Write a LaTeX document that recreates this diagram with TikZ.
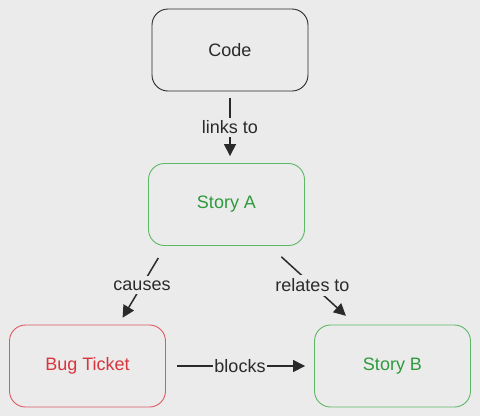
\documentclass[tikz,border=0pt]{standalone}
\usepackage{fontspec}
\setmainfont{Liberation Sans}
\usetikzlibrary{arrows.meta}

\definecolor{paper}{HTML}{EBEBEB}
\definecolor{storygreen}{HTML}{2E9A3C}
\definecolor{storyline}{HTML}{5DB865}
\definecolor{bugred}{HTML}{D8343C}
\definecolor{bugline}{HTML}{DE5A62}
\definecolor{ink}{HTML}{2A2A2A}

\begin{document}
\begin{tikzpicture}[x=1pt, y=-1pt,
  font=\fontsize{18}{21}\selectfont,
  card/.style={draw=ink, line width=0.9pt, rounded corners=16pt,
    minimum width=156pt, minimum height=82pt, text=ink},
  story/.style={card, draw=storyline, text=storygreen},
  bug/.style={card, draw=bugline, text=bugred},
  link/.style={ink, line width=1.5pt, -{Triangle[length=12pt,width=12pt]}},
  tag/.style={fill=paper, inner xsep=1pt, inner ysep=3pt, text=ink}]

\fill[paper] (0,0) rectangle (480,416);
\useasboundingbox (0,0) rectangle (480,416);

\node [card] (code) at (230,50) {Code};
\node [story] (storyA) at (226.5,204.5) {Story A};
\node [bug] (ticket) at (87.5,366) {Bug Ticket};
\node [story] (storyB) at (392.5,366) {Story B};

% code -> story A
\draw[link, shorten <=7pt, shorten >=7pt] (code.south) -- node [tag] {links to} (code.south |- storyA.north);

% story A -> bug / story B
\draw[link, shorten <=14pt, shorten >=8pt] ([xshift=-61pt]storyA.south) -- node [tag, inner sep=4pt] {causes} ([xshift=31pt]ticket.north);
\draw[link, shorten <=16pt, shorten >=13pt] ([xshift=43pt]storyA.south) -- node [tag, inner sep=4pt] {relates to} ([xshift=-37pt]storyB.north);

% bug -> story B
\draw[link, shorten <=11pt, shorten >=9pt] (ticket.east) -- node [tag, inner ysep=1pt] {blocks} (storyB.west);

\end{tikzpicture}
\end{document}
